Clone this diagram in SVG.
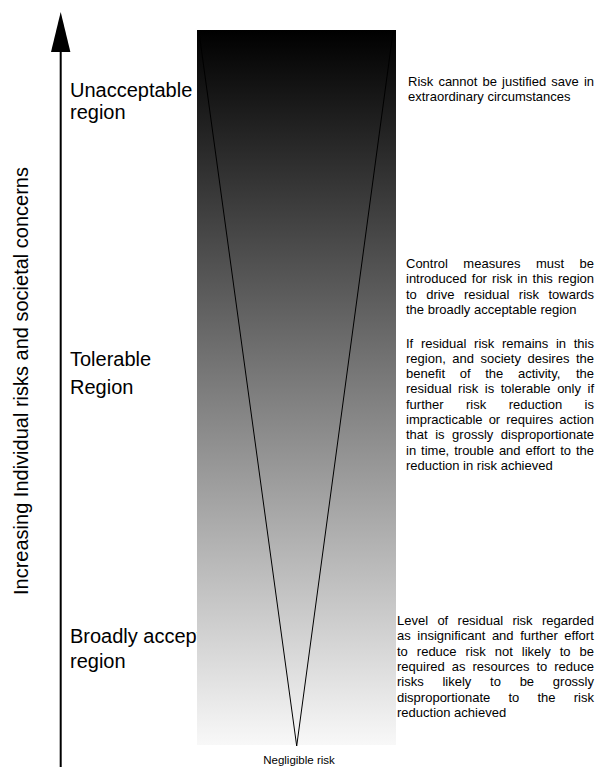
<svg xmlns="http://www.w3.org/2000/svg" width="600" height="767" viewBox="0 0 600 767">
<style>
.lab{font-family:"Liberation Sans",Arial,sans-serif;font-size:20px;fill:#000}
.d{font-family:"Liberation Sans",Arial,sans-serif;font-size:13px;fill:#000}
.small{font-family:"Liberation Sans",Arial,sans-serif;font-size:11.5px;fill:#000}
</style>
<defs>
<linearGradient id="g" x1="0" y1="0" x2="0" y2="1">
<stop offset="0" stop-color="#000"/>
<stop offset="1" stop-color="#f8f8f8"/>
</linearGradient>
</defs>
<rect width="600" height="767" fill="#fff"/>
<g id="axis">
<line x1="60.7" y1="50" x2="60.7" y2="767" stroke="#000" stroke-width="2"/>
<polygon points="60.7,12 51,52 70.4,52" fill="#000"/>
<text class="lab" transform="translate(28,381) rotate(-90)" text-anchor="middle">Increasing Individual risks and societal concerns</text>
</g>
<g id="region-labels">
<text class="lab" x="70" y="97">Unacceptable</text>
<text class="lab" x="70" y="119">region</text>
<text class="lab" x="70" y="366">Tolerable</text>
<text class="lab" x="70" y="394">Region</text>
<text class="lab" x="70" y="643">Broadly acceptable</text>
<text class="lab" x="70" y="668">region</text>
</g>
<g id="band">
<rect x="197" y="30" width="199" height="715" fill="url(#g)"/>
<polyline points="199,32 296.7,746 393,32" fill="none" stroke="#000" stroke-width="1"/>
<text class="small" x="299" y="764" text-anchor="middle">Negligible risk</text>
</g>
<g id="unacceptable-text" class="d">
<text y="86"><tspan x="408">Risk</tspan><tspan x="438.39">cannot</tspan><tspan x="482.54">be</tspan><tspan x="502.12">justified</tspan><tspan x="551.31">save</tspan><tspan x="583.89">in</tspan></text>
<text x="408" y="101">extraordinary circumstances</text>
</g>
<g id="control-text" class="d">
<text y="268"><tspan x="406">Control</tspan><tspan x="463.37">measures</tspan><tspan x="535.91">must</tspan><tspan x="579.55">be</tspan></text>
<text y="283.3"><tspan x="406">introduced</tspan><tspan x="471.79">for</tspan><tspan x="492.05">risk</tspan><tspan x="517.36">in</tspan><tspan x="532.56">this</tspan><tspan x="557.88">region</tspan></text>
<text y="298.6"><tspan x="406">to</tspan><tspan x="426.28">drive</tspan><tspan x="463.89">residual</tspan><tspan x="518.84">risk</tspan><tspan x="548.5">towards</tspan></text>
<text x="406" y="313.9">the broadly acceptable region</text>
</g>
<g id="tolerable-text" class="d">
<text y="347.5"><tspan x="406">If</tspan><tspan x="420.92">residual</tspan><tspan x="474.12">risk</tspan><tspan x="502.03">remains</tspan><tspan x="555.95">in</tspan><tspan x="573.75">this</tspan></text>
<text y="362.8"><tspan x="406">region,</tspan><tspan x="452.28">and</tspan><tspan x="480.5">society</tspan><tspan x="527.5">desires</tspan><tspan x="575.94">the</tspan></text>
<text y="378.1"><tspan x="406">benefit</tspan><tspan x="459.69">of</tspan><tspan x="485.19">the</tspan><tspan x="517.92">activity,</tspan><tspan x="575.92">the</tspan></text>
<text y="393.4"><tspan x="406">residual</tspan><tspan x="458.05">risk</tspan><tspan x="484.81">is</tspan><tspan x="500.74">tolerable</tspan><tspan x="557.14">only</tspan><tspan x="587.52">if</tspan></text>
<text y="408.7"><tspan x="406">further</tspan><tspan x="466.02">risk</tspan><tspan x="508.69">reduction</tspan><tspan x="584.61">is</tspan></text>
<text y="424"><tspan x="406">impracticable</tspan><tspan x="488.65">or</tspan><tspan x="506.29">requires</tspan><tspan x="559.33">action</tspan></text>
<text y="439.3"><tspan x="406">that</tspan><tspan x="435.2">is</tspan><tspan x="452.11">grossly</tspan><tspan x="500.8">disproportionate</tspan></text>
<text y="454.6"><tspan x="406">in</tspan><tspan x="421.07">time,</tspan><tspan x="454.2">trouble</tspan><tspan x="498.9">and</tspan><tspan x="525.54">effort</tspan><tspan x="560.13">to</tspan><tspan x="575.93">the</tspan></text>
<text x="406" y="469.9">reduction in risk achieved</text>
</g>
<g id="acceptable-text" class="d">
<text y="625"><tspan x="397">Level</tspan><tspan x="437.4">of</tspan><tspan x="457.57">residual</tspan><tspan x="512.41">risk</tspan><tspan x="541.96">regarded</tspan></text>
<text y="640.3"><tspan x="397">as</tspan><tspan x="417.35">insignificant</tspan><tspan x="491.88">and</tspan><tspan x="520.18">further</tspan><tspan x="564.37">effort</tspan></text>
<text y="655.6"><tspan x="397">to</tspan><tspan x="416.83">reduce</tspan><tspan x="465.56">risk</tspan><tspan x="494.77">not</tspan><tspan x="521.83">likely</tspan><tspan x="559.71">to</tspan><tspan x="579.54">be</tspan></text>
<text y="670.9"><tspan x="397">required</tspan><tspan x="451.67">as</tspan><tspan x="472.39">resources</tspan><tspan x="536.45">to</tspan><tspan x="554.28">reduce</tspan></text>
<text y="686.2"><tspan x="397">risks</tspan><tspan x="442.45">likely</tspan><tspan x="490.07">to</tspan><tspan x="519.64">be</tspan><tspan x="552.83">grossly</tspan></text>
<text y="701.5"><tspan x="397">disproportionate</tspan><tspan x="508.43">to</tspan><tspan x="537.49">the</tspan><tspan x="573.78">risk</tspan></text>
<text x="397" y="716.8">reduction achieved</text>
</g>
</svg>
